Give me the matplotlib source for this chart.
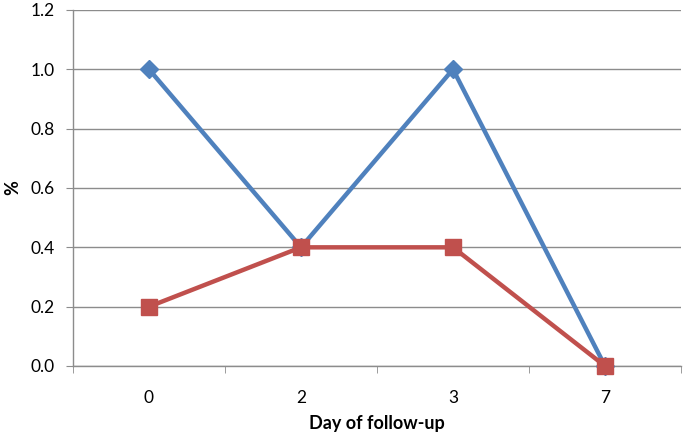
import matplotlib.pyplot as plt
import numpy as np

days = ["0", "2", "3", "7"]
series_a = [1.0, 0.4, 1.0, 0.0]
series_b = [0.2, 0.4, 0.4, 0.0]

plt.rcParams['font.family'] = ['Lato', 'DejaVu Sans']

fig = plt.figure(figsize=(6.85, 4.32), dpi=100)
ax = fig.add_axes([73 / 685, 66 / 432, 608 / 685, 356 / 432])

x = np.arange(len(days))
ax.plot(x, series_a, color="#4F81BD", lw=3.2, marker="D", ms=9,
        solid_capstyle="round", zorder=3, clip_on=False)
ax.plot(x, series_b, color="#C0504D", lw=3.2, marker="s", ms=11,
        solid_capstyle="round", zorder=4, clip_on=False)

ax.set_xlim(-0.5, len(days) - 0.5)
ax.set_ylim(0, 1.2)
ax.set_yticks(np.arange(0, 1.21, 0.2))
ax.set_yticklabels([f"{v:.1f}" for v in np.arange(0, 1.21, 0.2)])
ax.set_xticks(x)
ax.set_xticklabels(days)
ax.set_xticks(np.arange(-0.5, len(days), 1), minor=True)

ax.yaxis.grid(True, color="#8c8c8c", lw=1)
ax.set_axisbelow(True)
for s in ["top", "right"]:
    ax.spines[s].set_visible(False)
for s in ["left", "bottom"]:
    ax.spines[s].set_color("#8c8c8c")
    ax.spines[s].set_linewidth(1)

ax.tick_params(axis="x", which="major", length=0, labelsize=12.5, pad=17)
ax.tick_params(axis="x", which="minor", length=5, color="#8c8c8c")
ax.tick_params(axis="y", length=5, color="#8c8c8c", labelsize=12.5, pad=8)

ax.set_xlabel("Day of follow-up", fontsize=13, fontweight="bold")
ax.xaxis.set_label_coords(0.5, -0.138)
ax.set_ylabel("%", fontsize=13, fontweight="bold")
ax.yaxis.set_label_coords(-0.085, 0.5)

fig.savefig("out.png", dpi=100)
